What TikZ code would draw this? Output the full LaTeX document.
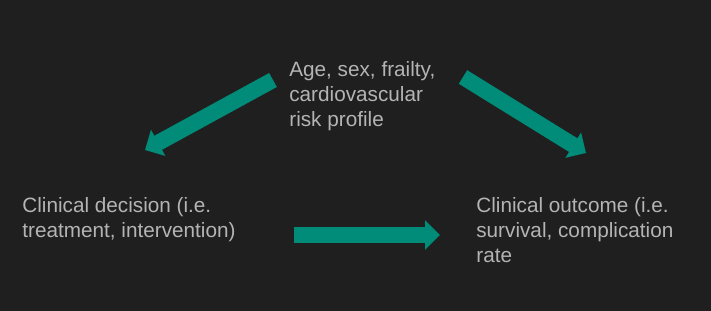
\documentclass[tikz,border=0pt]{standalone}
\usepackage{fontspec}
\setmainfont{Liberation Sans}
\usetikzlibrary{arrows.meta}

\definecolor{bgdark}{HTML}{1F1F1F}
\definecolor{txtgrey}{HTML}{B4B4B4}
\definecolor{tealarrow}{HTML}{008C78}

\tikzset{
    label/.style={anchor=north west, inner sep=0pt, align=left,
        text=txtgrey, font=\fontsize{11.8}{14.3}\selectfont},
    fatarrow/.style={-{Triangle[width=0.58cm, length=0.30cm]},
        line width=0.32cm, draw=tealarrow}
}

\begin{document}
\begin{tikzpicture}[x=0.02cm, y=-0.02cm]

    % dark backdrop
    \fill[bgdark] (0, 0) rectangle (711, 311);

    \node[label] (factors) at (289, 61)
        {Age, sex, frailty,\\cardiovascular\\risk profile};
    \node[label] (decision) at (22, 197)
        {Clinical decision (i.e.\\treatment, intervention)};
    \node[label] (outcome) at (476, 197)
        {Clinical outcome (i.e.\\survival, complication\\rate};

    % arrow ends
    \coordinate (fa) at (273, 80);
    \coordinate (fb) at (145, 150);
    \coordinate (fc) at (463, 77);
    \coordinate (fd) at (586, 153);
    \coordinate (da) at (294, 235);
    \coordinate (db) at (440, 235);

    \draw[fatarrow] (fa) -- (fb);
    \draw[fatarrow] (fc) -- (fd);
    \draw[fatarrow] (da) -- (db);

\end{tikzpicture}
\end{document}
